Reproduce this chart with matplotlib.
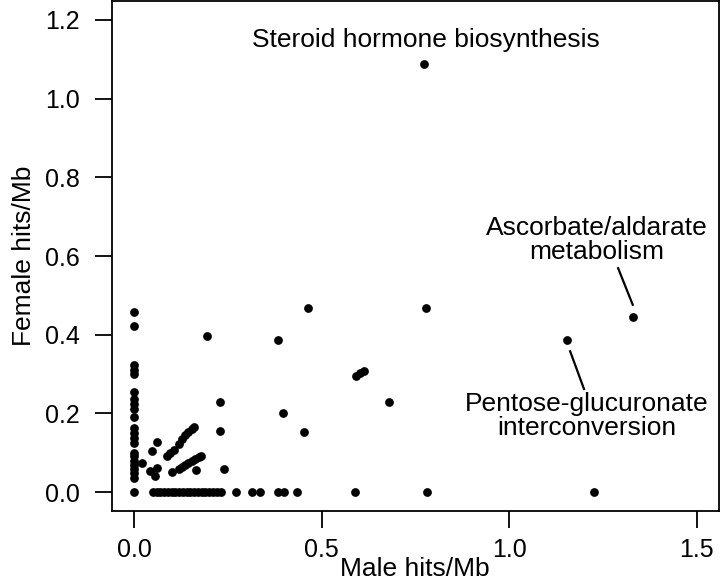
import numpy as np
import matplotlib
matplotlib.use("Agg")
from matplotlib import pyplot as plt

plt.rcParams['font.family'] = ['Liberation Sans', 'DejaVu Sans']

# points on the male = 0 axis (female hits/Mb)
zero_male_female = [0.457, 0.423, 0.323, 0.310, 0.299, 0.255, 0.237, 0.225, 0.210,
                    0.190, 0.163, 0.150, 0.138, 0.125, 0.100, 0.091, 0.080, 0.070,
                    0.058, 0.048, 0.036, 0.0]

# points on the female = 0 axis (male hits/Mb)
zero_female_male = [0.05, 0.06, 0.07, 0.08, 0.09, 0.10, 0.11, 0.12, 0.13, 0.14,
                    0.15, 0.16, 0.17, 0.18, 0.19, 0.20, 0.21, 0.22, 0.233,
                    0.273, 0.314, 0.336, 0.384, 0.400, 0.434, 0.590, 0.782, 1.227]

# all other pathways
male_other = [0.020, 0.061, 0.048, 0.043, 0.057, 0.061, 0.101,
              0.088, 0.097, 0.106, 0.119,
              0.128, 0.137, 0.145, 0.155, 0.159,
              0.119, 0.128, 0.137, 0.145, 0.155, 0.163, 0.172, 0.178,
              0.166, 0.230, 0.230, 0.241,
              0.194, 0.383, 0.465, 0.778, 1.331, 1.154,
              0.592, 0.603, 0.614, 0.681, 0.397, 0.454, 0.774]
female_other = [0.073, 0.127, 0.104, 0.053, 0.040, 0.062, 0.052,
                0.091, 0.100, 0.107, 0.121,
                0.135, 0.144, 0.153, 0.161, 0.166,
                0.060, 0.063, 0.068, 0.075, 0.080, 0.085, 0.090, 0.091,
                0.055, 0.228, 0.155, 0.060,
                0.397, 0.387, 0.468, 0.468, 0.445, 0.386,
                0.296, 0.302, 0.308, 0.228, 0.201, 0.152, 1.089]

male = np.concatenate([np.zeros(len(zero_male_female)), zero_female_male, male_other])
female = np.concatenate([zero_male_female, np.zeros(len(zero_female_male)), female_other])

fig = plt.figure(figsize=(7.2, 5.88), dpi=100)
ax = fig.add_axes([111.5 / 720, 1 - 511 / 588, 607.5 / 720, 510 / 588])

ax.plot(male, female, 'o', color='black', markersize=6.3, markeredgewidth=0)

# labels for the outlying pathways
ax.text(0.778, 1.148, "Steroid hormone biosynthesis", ha='center', va='center', fontsize=19)
ax.text(1.234, 0.641, "Ascorbate/aldarate\nmetabolism", ha='center', va='center',
        fontsize=19, linespacing=1.0)
ax.plot([1.291, 1.330], [0.569, 0.476], color='black', lw=1.6)
ax.text(1.207, 0.193, "Pentose-glucuronate\ninterconversion", ha='center', va='center',
        fontsize=19, linespacing=1.0)
ax.plot([1.163, 1.200], [0.358, 0.262], color='black', lw=1.6)

ax.set_xlim(-0.06, 1.56)
ax.set_ylim(-0.048, 1.248)
ax.set_xticks([0.0, 0.5, 1.0, 1.5])
ax.set_xticklabels(["0.0", "0.5", "1.0", "1.5"])
ax.set_yticks([0.0, 0.2, 0.4, 0.6, 0.8, 1.0, 1.2])
ax.set_yticklabels(["0.0", "0.2", "0.4", "0.6", "0.8", "1.0", "1.2"])

for s in ax.spines.values():
    s.set_linewidth(1.3)
ax.tick_params(axis='both', length=12, width=1.3, labelsize=18)
ax.tick_params(axis='x', pad=7.5)
ax.tick_params(axis='y', pad=11)

ax.set_xlabel("Male hits/Mb", fontsize=19, labelpad=-3.5)
ax.set_ylabel("Female hits/Mb", fontsize=19, labelpad=6)

plt.savefig("out.png", dpi=100)
